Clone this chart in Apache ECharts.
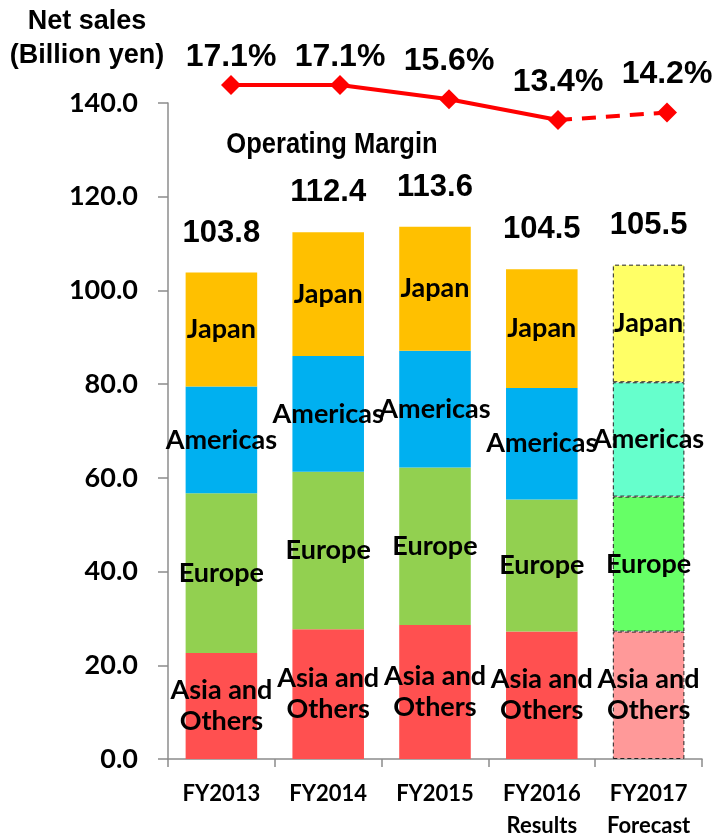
<!DOCTYPE html>
<html>
<head>
<meta charset="utf-8">
<script src="https://cdn.jsdelivr.net/npm/echarts@6/dist/echarts.min.js"></script>
<style>
  html, body { margin: 0; padding: 0; background: #fff; }
  #chart { width: 720px; height: 836px; }
</style>
</head>
<body>
<div id="chart"></div>
<script>
// Fiscal years on the category axis
const years = ['FY2013', 'FY2014', 'FY2015', 'FY2016\nResults', 'FY2017\nForecast'];

// Net sales by region (billion yen)
const asiaOthers = [22.6, 27.7, 28.6, 27.2, 27.2];
const europe     = [34.1, 33.6, 33.6, 28.2, 28.8];
const americas   = [22.8, 24.7, 24.9, 23.8, 24.4];
const japan      = [24.3, 26.4, 26.5, 25.3, 25.1];
const totals     = [103.8, 112.4, 113.6, 104.5, 105.5];

// Operating margin (%)
const opMargin = [17.1, 17.1, 15.6, 13.4, 14.2];

// Y-axis ticks
const yTicks = { min: 0, max: 140, interval: 20 };

const forecastIndex = 4;
const labelFont = 'Lato';
const numFont = '"Liberation Sans", Arial, sans-serif';

function regionSeries(name, values, color, forecastColor, labelText) {
  return {
    name: name,
    type: 'bar',
    stack: 'sales',
    barWidth: '67%',
    xAxisIndex: 0,
    yAxisIndex: 0,
    data: values.map((v, i) => i === forecastIndex
      ? { value: v, itemStyle: { color: forecastColor, borderColor: '#222', borderWidth: 1, borderType: [4, 3] } }
      : { value: v }),
    itemStyle: { color: color },
    label: {
      show: true,
      position: 'inside',
      formatter: labelText,
      color: '#000',
      fontFamily: labelFont,
      fontWeight: 'bold',
      fontSize: 27,
      lineHeight: 31,
      overflow: 'none'
    },
    emphasis: { disabled: true }
  };
}

const chart = echarts.init(document.getElementById('chart'), null, { renderer: 'canvas' });

chart.setOption({
  animation: false,
  backgroundColor: '#fff',
  grid: [
    { left: 168, right: 18, top: 103, bottom: 77, outerBoundsMode: 'none', containLabel: false },
    { left: 231, right: 53, top: 103, bottom: 77, outerBoundsMode: 'none', containLabel: false }
  ],
  xAxis: [
    {
      type: 'category',
      gridIndex: 0,
      data: years,
      axisLine: { lineStyle: { color: '#8c8c8c', width: 1.5 } },
      axisTick: { show: true, length: 8, lineStyle: { color: '#8c8c8c', width: 1.5 } },
      axisLabel: {
        color: '#000',
        fontFamily: labelFont,
        fontWeight: 'bold',
        fontSize: 22,
        lineHeight: 32,
        margin: 19,
        interval: 0
      }
    },
    {
      type: 'category',
      gridIndex: 1,
      data: years,
      boundaryGap: false,
      show: false
    }
  ],
  yAxis: [
    {
      type: 'value',
      gridIndex: 0,
      min: yTicks.min,
      max: yTicks.max,
      interval: yTicks.interval,
      axisLine: { show: true, lineStyle: { color: '#8c8c8c', width: 1.5 } },
      axisTick: { show: true, length: 10, lineStyle: { color: '#8c8c8c', width: 1.5 } },
      splitLine: { show: false },
      axisLabel: {
        color: '#000',
        fontFamily: labelFont,
        fontWeight: 'bold',
        fontSize: 27,
        margin: 30,
        formatter: v => v.toFixed(1)
      }
    },
    {
      type: 'value',
      gridIndex: 1,
      min: -54,
      max: 15.2,
      show: false,
      splitLine: { show: false }
    }
  ],
  series: [
    regionSeries('Asia and Others', asiaOthers, '#ff5050', '#ff9999', 'Asia and\nOthers'),
    regionSeries('Europe', europe, '#92d050', '#66ff66', 'Europe'),
    regionSeries('Americas', americas, '#00b0f0', '#66ffcc', 'Americas'),
    regionSeries('Japan', japan, '#ffc000', '#ffff66', 'Japan'),
    {
      // invisible bars carrying the total net sales labels
      name: 'Total',
      type: 'bar',
      barWidth: '67%',
      barGap: '-100%',
      xAxisIndex: 0,
      yAxisIndex: 0,
      data: totals,
      itemStyle: { color: 'rgba(0,0,0,0)' },
      z: 1,
      label: {
        show: true,
        position: 'top',
        distance: 24,
        color: '#000',
        fontFamily: numFont,
        fontWeight: 'bold',
        fontSize: 31,
        formatter: p => p.value.toFixed(1)
      },
      emphasis: { disabled: true }
    },
    {
      name: 'Operating Margin',
      type: 'line',
      xAxisIndex: 1,
      yAxisIndex: 1,
      clip: false,
      data: opMargin.map((v, i) => {
        if (i === forecastIndex) return '-';
        return i < 2 ? { value: v } : { value: v, label: { distance: 12 } };
      }),
      symbol: 'diamond',
      symbolSize: 20,
      lineStyle: { color: '#ff0000', width: 4 },
      itemStyle: { color: '#ff0000' },
      label: {
        show: true,
        position: 'top',
        distance: 2,
        color: '#000',
        fontFamily: numFont,
        fontWeight: 'bold',
        fontSize: 32,
        formatter: p => p.value.toFixed(1) + '%'
      },
      z: 5,
      emphasis: { disabled: true }
    },
    {
      name: 'Operating Margin (forecast)',
      type: 'line',
      xAxisIndex: 1,
      yAxisIndex: 1,
      clip: false,
      data: opMargin.map((v, i) => {
        if (i < forecastIndex - 1) return '-';
        if (i === forecastIndex) return { value: v, label: { show: true } };
        return { value: v, symbol: 'none' };
      }),
      symbol: 'diamond',
      symbolSize: 20,
      lineStyle: { color: '#ff0000', width: 4, type: [14, 10] },
      itemStyle: { color: '#ff0000' },
      label: {
        show: false,
        position: 'top',
        distance: 12,
        color: '#000',
        fontFamily: numFont,
        fontWeight: 'bold',
        fontSize: 32,
        formatter: p => p.value.toFixed(1) + '%'
      },
      z: 4,
      emphasis: { disabled: true }
    }
  ],
  graphic: [
    {
      type: 'text',
      style: {
        text: 'Net sales',
        x: 87, y: 22,
        align: 'center', verticalAlign: 'middle',
        fill: '#000',
        font: 'bold 27px "Liberation Sans", Arial, sans-serif'
      }
    },
    {
      type: 'text',
      style: {
        text: '(Billion yen)',
        x: 87, y: 56,
        align: 'center', verticalAlign: 'middle',
        fill: '#000',
        font: 'bold 27px "Liberation Sans", Arial, sans-serif'
      }
    },
    {
      type: 'text',
      x: 332, y: 145,
      scaleX: 0.88,
      style: {
        text: 'Operating Margin',
        x: 0, y: 0,
        align: 'center', verticalAlign: 'middle',
        fill: '#000',
        font: 'bold 29px "Liberation Sans", Arial, sans-serif'
      }
    }
  ]
});
</script>
</body>
</html>
